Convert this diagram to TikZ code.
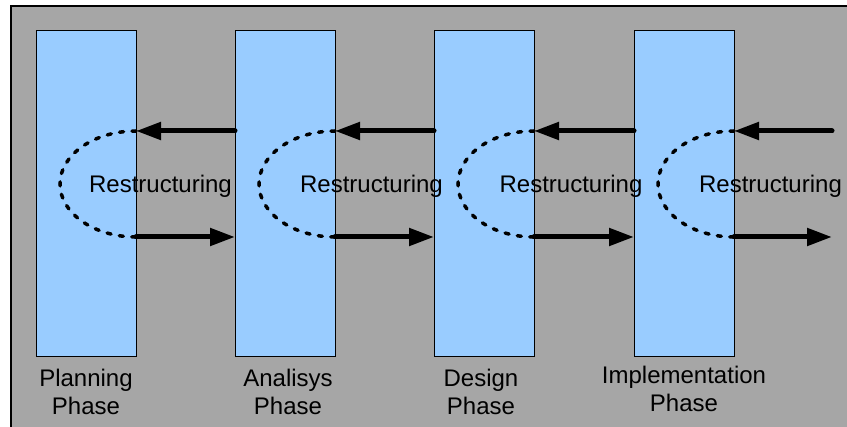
\documentclass[tikz,border=0pt]{standalone}
\usepackage{fontspec}
\setmainfont{Liberation Sans}
\usetikzlibrary{arrows.meta}
\definecolor{panel}{RGB}{166,166,166}
\definecolor{phasefill}{RGB}{153,204,255}
\tikzset{
  phasebox/.style={draw=black, line width=1pt, fill=phasefill,
    minimum width=100pt, minimum height=326pt, inner sep=0pt, outer sep=0pt,
    anchor=north west},
  phaselabel/.style={font=\fontsize{24}{28}\selectfont, align=center,
    inner sep=0pt, anchor=base},
  looplabel/.style={font=\fontsize{24}{28}\selectfont, inner sep=0pt, anchor=base},
  flow/.style={line width=5pt, line cap=round,
    -{Triangle[length=25pt, width=17pt]}},
  loopback/.style={line width=3.5pt, line cap=round,
    dash pattern=on 4pt off 8.5pt},
}
\begin{document}
\begin{tikzpicture}[x=1pt, y=-1pt]
  \useasboundingbox (0,0) rectangle (847,427);
  % grey panel with its top and left edges outlined
  \fill[panel] (11,6) rectangle (847,427);
  \draw[line width=1.5pt] (11,427) -- (11,6) -- (847,6);

  % the four phase columns
  \node[phasebox] (p1) at (36,31)  {};
  \node[phasebox] (p2) at (235,31) {};
  \node[phasebox] (p3) at (434,31) {};
  \node[phasebox] (p4) at (634,31) {};

  % arrow end points on the column edges
  \foreach \i in {1,...,4} {
    \coordinate (t\i) at ([yshift=-100pt]p\i.north east);
    \coordinate (b\i) at ([yshift=-206pt]p\i.north east);
    \coordinate (tl\i) at ([yshift=-100pt]p\i.north west);
  }
  \coordinate (tin)  at (832,131);
  \coordinate (bout) at (832,237);

  % dashed restructuring loops
  \foreach \i in {1,...,4} {
    \draw[loopback] (t\i) arc[start angle=90, end angle=270,
      x radius=76pt, y radius=53pt];
  }

  % feedback arrows (right to left) and forward arrows (left to right)
  \draw[flow] (tl2) -- (t1);
  \draw[flow] (tl3) -- (t2);
  \draw[flow] (tl4) -- (t3);
  \draw[flow] (tin) -- (t4);
  \draw[flow] (b1) -- (tl2 |- b1);
  \draw[flow] (b2) -- (tl3 |- b2);
  \draw[flow] (b3) -- (tl4 |- b3);
  \draw[flow] (b4) -- (bout);

  % loop labels
  \node[looplabel] (r1) at (160.5,193) {Restructuring};
  \node[looplabel] (r2) at (371.5,193) {Restructuring};
  \node[looplabel] (r3) at (571,193)   {Restructuring};
  \node[looplabel] (r4) at (770.5,193) {Restructuring};

  % phase names (anchored on the baseline of the second line)
  \node[phaselabel] (l1) at (86,415)  {Planning\\Phase};
  \node[phaselabel] (l2) at (288,415) {Analisys\\Phase};
  \node[phaselabel] (l3) at (481,415) {Design\\Phase};
  \node[phaselabel] (l4) at (684,412) {Implementation\\Phase};
\end{tikzpicture}
\end{document}
